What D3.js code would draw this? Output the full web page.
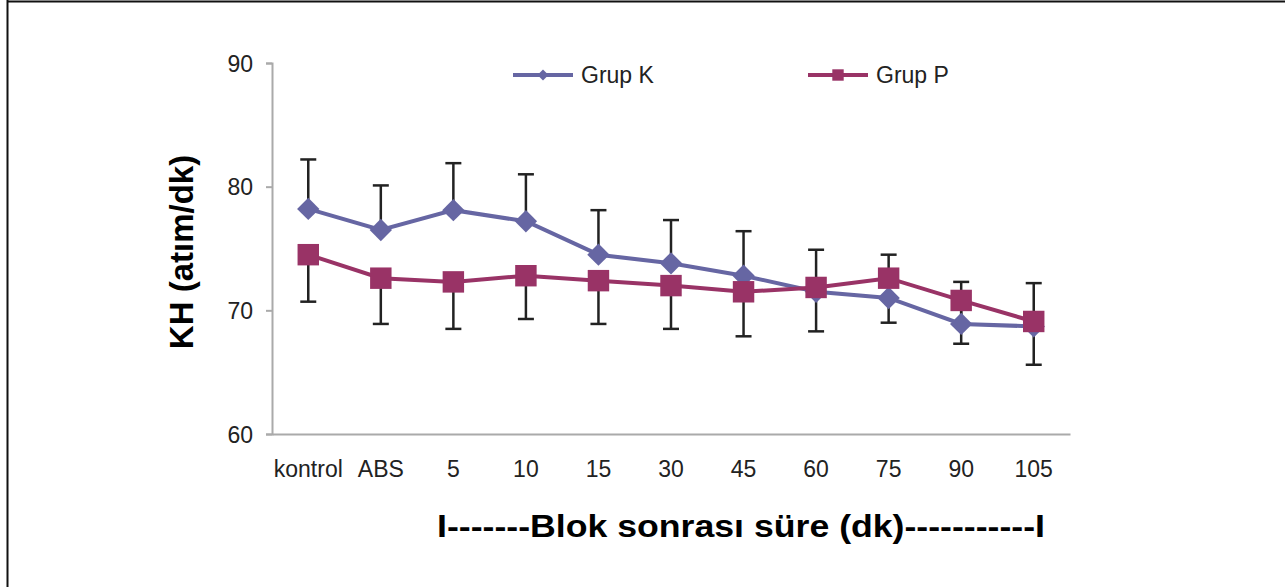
<!DOCTYPE html>
<html>
<head>
<meta charset="utf-8">
<script src="https://cdn.jsdelivr.net/npm/d3@7"></script>
<style>
  html, body { margin: 0; padding: 0; background: #fff; }
  svg { display: block; font-family: "Liberation Sans", Arial, sans-serif; }
</style>
</head>
<body>
<svg id="chart" width="1285" height="587"></svg>
<script>
// data
const categories = ['kontrol', 'ABS', '5', '10', '15', '30', '45', '60', '75', '90', '105'];
const grupK = [78.2, 76.5, 78.1, 77.2, 74.5, 73.8, 72.8, 71.5, 71.0, 68.9, 68.7];
const grupP = [74.5, 72.6, 72.3, 72.8, 72.4, 72.0, 71.5, 71.85, 72.6, 70.8, 69.1];
const sdK = [4.0, 3.6, 3.8, 3.8, 3.6, 3.5, 3.6, 3.4, 3.5, 3.4, 3.5];   // drawn upward
const sdP = [3.8, 3.7, 3.8, 3.5, 3.5, 3.5, 3.6, 3.55, 3.6, 3.5, 3.5]; // drawn downward
const yTicks = [60, 70, 80, 90];

const colorK = '#6666a3';
const colorP = '#993366';

const svg = d3.select('#chart');

// frame (top + left only, as in the scan)
svg.append('line').attr('x1', 7.5).attr('x2', 1285).attr('y1', 1.5).attr('y2', 1.5)
    .attr('stroke', '#111').attr('stroke-width', 2);
svg.append('line').attr('x1', 7.5).attr('x2', 7.5).attr('y1', 0).attr('y2', 587)
    .attr('stroke', '#111').attr('stroke-width', 2);

const plot = { left: 272, right: 1070, top: 63, bottom: 434 };

const x = d3.scaleBand().domain(categories).range([plot.left, plot.right]).padding(0);
const cx = d => x(d) + x.bandwidth() / 2;
const y = d3.scaleLinear().domain([60, 90]).range([plot.bottom, plot.top]);

// y axis
const yAxis = svg.append('g')
    .attr('transform', `translate(${plot.left},0)`)
    .call(d3.axisLeft(y).tickValues(yTicks).tickSize(6).tickPadding(13));
yAxis.select('.domain').attr('stroke', '#aaa').attr('stroke-width', 2);
yAxis.selectAll('.tick line').attr('stroke', '#aaa').attr('stroke-width', 2);
yAxis.selectAll('.tick text')
    .style('font-size', '23px').attr('fill', '#222').attr('dy', '0.35em');

// x axis
const xAxis = svg.append('g')
    .attr('transform', `translate(0,${plot.bottom})`)
    .call(d3.axisBottom(x).tickSize(0).tickPadding(27));
xAxis.select('.domain').attr('stroke', '#aaa').attr('stroke-width', 2);
xAxis.selectAll('.tick text')
    .style('font-size', '23px').attr('fill', '#222');

// axis titles
svg.append('text')
    .attr('transform', `translate(193,252) rotate(-90)`)
    .attr('text-anchor', 'middle')
    .style('font-size', '33px').style('font-weight', 'bold')
    .attr('fill', '#000')
    .text('KH (atım/dk)');

svg.append('text')
    .attr('x', 437).attr('y', 537)
    .attr('textLength', 608).attr('lengthAdjust', 'spacingAndGlyphs')
    .style('font-size', '31px').style('font-weight', 'bold')
    .attr('fill', '#000')
    .text('I-------Blok sonrası süre (dk)-----------I');

// error bars
function errorBars(values, sd, dir) {
    const g = svg.append('g').attr('stroke', '#222').attr('stroke-width', 2.5);
    values.forEach((v, i) => {
        const xc = cx(categories[i]);
        const end = y(v + dir * sd[i]);
        g.append('line').attr('x1', xc).attr('x2', xc).attr('y1', y(v)).attr('y2', end);
        g.append('line').attr('x1', xc - 8).attr('x2', xc + 8).attr('y1', end).attr('y2', end);
    });
}
errorBars(grupK, sdK, 1);
errorBars(grupP, sdP, -1);

const line = d3.line().x((d, i) => cx(categories[i])).y(d => y(d));

// diamond = square turned 45deg (Excel style, as wide as tall)
function series(values, color, rotate, size) {
    svg.append('path').datum(values)
        .attr('d', line).attr('fill', 'none')
        .attr('stroke', color).attr('stroke-width', 4);
    svg.append('g').selectAll('path').data(values).join('path')
        .attr('transform', (d, i) => `translate(${cx(categories[i])},${y(d)}) rotate(${rotate})`)
        .attr('d', d3.symbol().type(d3.symbolSquare).size(size))
        .attr('fill', color);
}
series(grupK, colorK, 45, 250);
series(grupP, colorP, 0, 460);

// legend
const legendItems = [
    { label: 'Grup K', color: colorK, rotate: 45, size: 60, x: 513 },
    { label: 'Grup P', color: colorP, rotate: 0, size: 130, x: 808 }
];
const legend = svg.append('g');
legendItems.forEach(it => {
    const row = legend.append('g').attr('transform', `translate(${it.x},75)`);
    row.append('line').attr('x1', 0).attr('x2', 60).attr('y1', 0).attr('y2', 0)
        .attr('stroke', it.color).attr('stroke-width', 4);
    row.append('path').attr('transform', `translate(30,0) rotate(${it.rotate})`)
        .attr('d', d3.symbol().type(d3.symbolSquare).size(it.size)).attr('fill', it.color);
    row.append('text').attr('x', 68).attr('y', 8)
        .style('font-size', '23px').attr('fill', '#222').text(it.label);
});
</script>
</body>
</html>
